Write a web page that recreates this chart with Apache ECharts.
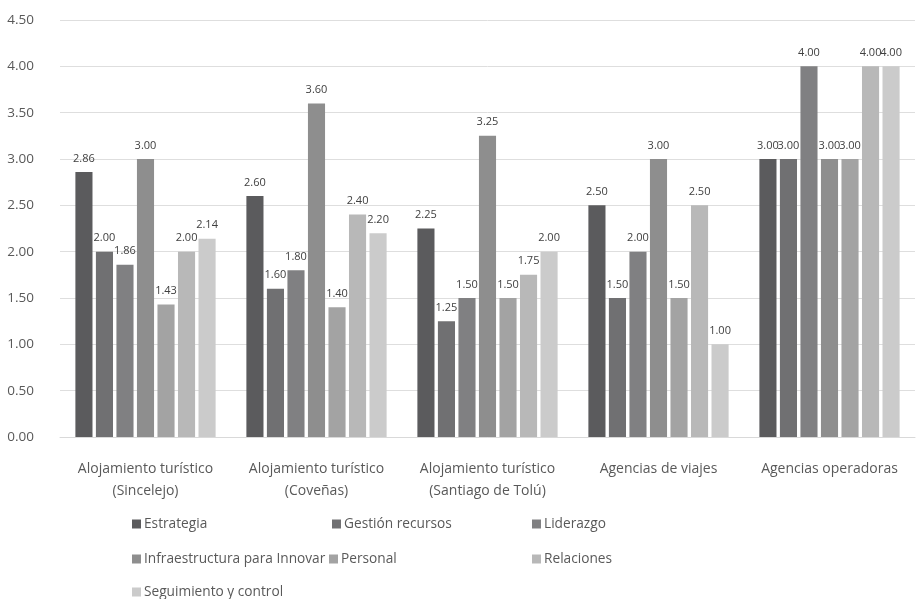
<!DOCTYPE html>
<html>
<head>
<meta charset="utf-8">
<script src="https://cdn.jsdelivr.net/npm/echarts@6/dist/echarts.min.js"></script>
<style>
  html, body { margin: 0; padding: 0; background: #ffffff; }
  #chart { width: 917px; height: 599px; }
</style>
</head>
<body>
<div id="chart"></div>
<script>
// Categorías (grupos de prestadores) y escalas del eje
const categories = [
  'Alojamiento turístico\n(Sincelejo)',
  'Alojamiento turístico\n(Coveñas)',
  'Alojamiento turístico\n(Santiago de Tolú)',
  'Agencias de viajes',
  'Agencias operadoras'
];
const yTicks = { min: 0, max: 4.5, interval: 0.5 };

// Puntajes por dimensión
const estrategia       = [2.86, 2.60, 2.25, 2.50, 3.00];
const gestionRecursos  = [2.00, 1.60, 1.25, 1.50, 3.00];
const liderazgo        = [1.86, 1.80, 1.50, 2.00, 4.00];
const infraestructura  = [3.00, 3.60, 3.25, 3.00, 3.00];
const personal         = [1.43, 1.40, 1.50, 1.50, 3.00];
const relaciones       = [2.00, 2.40, 1.75, 2.50, 4.00];
const seguimiento      = [2.14, 2.20, 2.00, 1.00, 4.00];

const seriesDefs = [
  { name: 'Estrategia', data: estrategia, color: '#5b5b5d' },
  { name: 'Gestión recursos', data: gestionRecursos, color: '#707072' },
  { name: 'Liderazgo', data: liderazgo, color: '#808082' },
  { name: 'Infraestructura para Innovar', data: infraestructura, color: '#8e8e8e' },
  { name: 'Personal', data: personal, color: '#a3a3a3' },
  { name: 'Relaciones', data: relaciones, color: '#b8b8b8' },
  { name: 'Seguimiento y control', data: seguimiento, color: '#cbcbcb' }
];

const FONT = '"Open Sans", "Noto Sans", sans-serif';
const TEXT = '#595959';

// Leyenda en tres columnas: cada entrada con su propia posición
const legendSlots = [
  ['Estrategia', 132, 517],
  ['Gestión recursos', 332, 517],
  ['Liderazgo', 532, 517],
  ['Infraestructura para Innovar', 132, 552],
  ['Personal', 329, 552],
  ['Relaciones', 532, 552],
  ['Seguimiento y control', 132, 585]
];

const chart = echarts.init(document.getElementById('chart'), null, { renderer: 'canvas' });

chart.setOption({
  animation: false,
  backgroundColor: '#ffffff',
  grid: { left: 60, right: 2, top: 20, bottom: 162, containLabel: false },
  legend: legendSlots.map(([name, left, top]) => ({
    data: [name],
    left: left,
    top: top,
    padding: 0,
    itemWidth: 9,
    itemHeight: 9,
    icon: 'rect',
    selectedMode: false,
    textStyle: { fontFamily: FONT, fontSize: 13.7, color: TEXT, padding: [0, 0, 0, -2] }
  })),
  xAxis: {
    type: 'category',
    data: categories,
    axisLine: { show: true, lineStyle: { color: '#d9d9d9', width: 1 } },
    axisTick: { show: false },
    axisLabel: {
      fontFamily: FONT, fontSize: 14, color: TEXT,
      margin: 21, lineHeight: 22, interval: 0
    }
  },
  yAxis: {
    type: 'value',
    min: yTicks.min, max: yTicks.max, interval: yTicks.interval,
    axisLine: { show: false },
    axisTick: { show: false },
    splitLine: { lineStyle: { color: '#dedede', width: 1 } },
    axisLabel: {
      fontFamily: FONT, fontSize: 13.5, color: TEXT, margin: 26,
      formatter: v => v.toFixed(2)
    }
  },
  series: seriesDefs.map(s => ({
    name: s.name,
    type: 'bar',
    data: s.data,
    barGap: '20%',
    barCategoryGap: '18%',
    itemStyle: { color: s.color },
    label: {
      show: true,
      position: 'top',
      distance: 8,
      fontFamily: FONT,
      fontSize: 11,
      color: '#404040',
      formatter: p => p.value.toFixed(2)
    }
  }))
});
</script>
</body>
</html>
